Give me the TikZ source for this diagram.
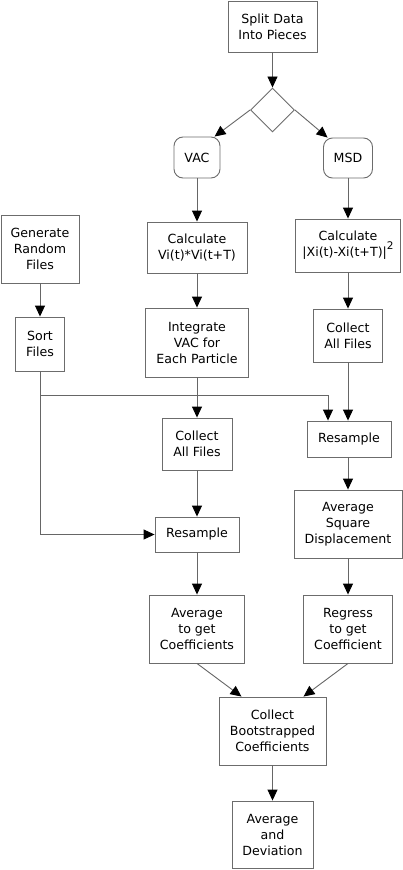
\documentclass[tikz,border=0pt]{standalone}
\usepackage{fontspec}
\setmainfont{DejaVu Sans}
\usetikzlibrary{shapes,arrows.meta,positioning,calc}

\begin{document}
\begin{tikzpicture}[x=1pt, y=-1pt,
  box/.style={draw=gray!85!black, line width=0.9pt, rectangle, inner sep=0pt, align=center, font=\fontsize{12.6}{16}\selectfont},
  term/.style={box, rounded corners=9pt},
  flow/.style={draw=gray!80!black, line width=0.9pt, -{Triangle[length=11pt, width=10pt, black]}}
]

\useasboundingbox (0,0) rectangle (403,870);

% Split and branch
\node[box, minimum width=89, minimum height=51] (split) at (272.5, 26.5) {Split Data\\Into Pieces};
\node[box, diamond, minimum width=44, minimum height=44] (branch) at (272.5, 110) {};
\node[term, minimum width=46, minimum height=41] (vac) at (197, 157.5) {VAC};
\node[term, minimum width=49, minimum height=40] (msd) at (348, 158) {MSD};

% Random files (left)
\node[box, minimum width=78, minimum height=68] (gen) at (40, 249) {Generate\\Random\\Files};
\node[box, minimum width=49, minimum height=54] (sort) at (40, 344) {Sort\\Files};

% VAC branch
\node[box, minimum width=100, minimum height=51] (calcv) at (197, 247.5) {Calculate\\Vi(t)*Vi(t+T)};
\node[box, minimum width=103, minimum height=69] (integ) at (197, 342.5) {Integrate\\VAC for\\Each Particle};
\node[box, minimum width=70, minimum height=52] (collm) at (197, 444) {Collect\\All Files};
\node[box, minimum width=84, minimum height=35] (resm) at (197, 534.5) {Resample};
\node[box, minimum width=95, minimum height=68] (avgc) at (197, 629) {Average\\to get\\Coefficients};

% MSD branch
\node[box, minimum width=105, minimum height=53] (calcx) at (348, 245.5) {Calculate\\|Xi(t)-Xi(t+T)|\raisebox{1ex}{\fontsize{10.5}{10}\selectfont 2}};
\node[box, minimum width=69, minimum height=53] (collr) at (348, 335.5) {Collect\\All Files};
\node[box, minimum width=84, minimum height=36] (resr) at (349, 439) {Resample};
\node[box, minimum width=108, minimum height=68] (avgsq) at (348, 524) {Average\\Square\\Displacement};
\node[box, minimum width=89, minimum height=68] (regr) at (348, 629) {Regress\\to get\\Coefficient};

% Merge
\node[box, minimum width=107, minimum height=68] (boot) at (272.5, 731) {Collect\\Bootstrapped\\Coefficients};
\node[box, minimum width=81, minimum height=67] (avgdev) at (272.5, 834.5) {Average\\and\\Deviation};

\coordinate (tap) at (328, 395);

% Connectors
\draw[flow] (split) -- (branch);
\draw[flow] (branch.west) -- (vac.50);
\draw[flow] (branch.east) -- (msd.135);
\draw[flow] (vac) -- (calcv);
\draw[flow] (calcv) -- (integ);
\draw[flow] (integ) -- (collm);
\draw[flow] (collm) -- (resm);
\draw[flow] (resm) -- (avgc);
\draw[flow] (msd) -- (calcx);
\draw[flow] (calcx) -- (collr);
\draw[flow] (collr.south) -- (collr.south |- resr.north);
\draw[flow] (avgsq.north |- resr.south) -- (avgsq);
\draw[flow] (avgsq) -- (regr);
\draw[flow] (gen) -- (sort);
\draw[flow] (sort.south) |- (tap) -- (tap |- resr.north);
\draw[flow] (sort.south) |- (resm.west);
\draw[flow] (avgc.south) -- (boot.132);
\draw[flow] (regr.south) -- (boot.48);
\draw[flow] (boot) -- (avgdev);

\end{tikzpicture}
\end{document}
